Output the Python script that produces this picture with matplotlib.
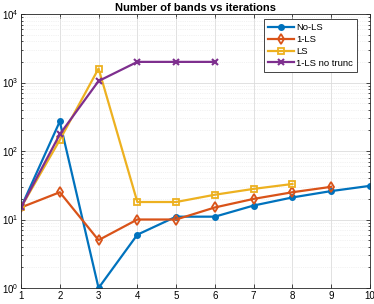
import matplotlib
matplotlib.use("Agg")
import matplotlib.pyplot as plt
from matplotlib.ticker import LogLocator, FixedLocator, NullFormatter

plt.rcParams['font.family'] = ['Liberation Sans', 'DejaVu Sans']
plt.rcParams['mathtext.fontset'] = 'custom'
plt.rcParams['mathtext.rm'] = 'Liberation Sans'
plt.rcParams['mathtext.it'] = 'Liberation Sans:italic'
plt.rcParams['mathtext.bf'] = 'Liberation Sans:bold'

iters = list(range(1, 11))
nols = [15, 270, 1, 6, 11, 11, 16, 21, 26, 31]
ls1 = [15, 25, 5, 10, 10, 15, 20, 25, 30]
ls = [15, 145, 1600, 18, 18, 23, 28, 33]
notrunc = [15, 175, 1050, 2000, 2000, 2000]

fig = plt.figure(figsize=(3.74, 3.04), dpi=100)
ax = fig.add_axes([21/374, 16/304, 349/374, 274/304])

ax.plot(iters[:len(nols)], nols, '-o', color='#0072BD', lw=1.6, ms=4, label='No-LS')
ax.plot(iters[:len(ls1)], ls1, '-d', color='#D95319', lw=1.6, ms=5, mfc='none', mew=1.3, label='1-LS')
ax.plot(iters[:len(ls)], ls, '-s', color='#EDB120', lw=1.6, ms=5, mfc='none', mew=1.3, label='LS')
ax.plot(iters[:len(notrunc)], notrunc, '-x', color='#7E2F8E', lw=1.6, ms=4, mew=1.5, label='1-LS no trunc')

ax.set_yscale('log')
ax.set_ylim(1, 1e4)
ax.set_xlim(1, 10)
ax.set_xticks(iters)
ax.yaxis.set_major_locator(FixedLocator([1, 10, 100, 1000, 10000]))
ax.yaxis.set_minor_locator(LogLocator(base=10, subs=range(2, 10)))
ax.yaxis.set_minor_formatter(NullFormatter())
ax.grid(True, which='major', color='#dcdcdc', lw=0.6)
ax.grid(True, which='minor', axis='y', color='#e6e6e6', lw=0.5, ls=':')
ax.tick_params(direction='in', which='both', top=True, right=True, labelsize=7, length=3, width=0.5, pad=2)
ax.tick_params(which='minor', length=1.5)
for s in ax.spines.values():
    s.set_linewidth(0.6)
    s.set_color('#262626')
ax.set_title('Number of bands vs iterations', fontsize=8, fontweight='bold', pad=2)
leg = ax.legend(loc='upper right', fontsize=6.8, fancybox=False, edgecolor='#262626',
                framealpha=1, handlelength=2.7, handletextpad=0.3, borderpad=0.4,
                labelspacing=0.3, borderaxespad=0.0, bbox_to_anchor=(0.963, 0.98))
leg.get_frame().set_linewidth(0.6)
fig.savefig('out.png', dpi=100)
